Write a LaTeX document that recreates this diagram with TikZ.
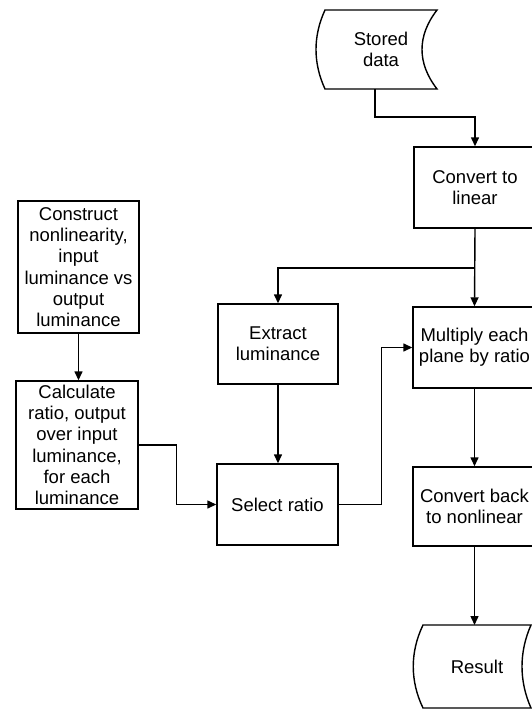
\documentclass[tikz,border=0pt]{standalone}
\usepackage{fontspec}
\setmainfont{Liberation Sans}
\usetikzlibrary{arrows.meta,calc}

\tikzset{
    procbox/.style={draw, rectangle, align=center, inner sep=1pt},
    storebox/.style={rectangle, align=center, inner sep=1pt, outer sep=0pt},
    arr/.style={-{Triangle[length=9pt,width=8pt]}}
}

\begin{document}
\begin{tikzpicture}[x=1pt,y=-1pt,line width=1.4pt,
    every node/.style={font=\fontsize{18.5}{21.3}\selectfont}]
    \useasboundingbox (0,0) rectangle (532,709);

    % right column
    \node[storebox, minimum width=112pt, minimum height=79pt] (stored) at (381,49.5) {Stored\\data};
    \node[procbox, minimum width=122pt, minimum height=81pt] (tolinear) at (475,187.5) {Convert to\\linear};
    \node[procbox, minimum width=123pt, minimum height=81pt] (multiply) at (474.5,347.5) {Multiply each\\plane by ratio};
    \node[procbox, minimum width=123pt, minimum height=79pt] (toback) at (474.5,506.5) {Convert back\\to nonlinear};
    \node[storebox, minimum width=108pt, minimum height=83pt] (result) at (477,666.5) {Result};

    % middle column
    \node[procbox, minimum width=120pt, minimum height=80pt] (extract) at (278,344) {Extract\\luminance};
    \node[procbox, minimum width=121pt, minimum height=81pt] (select) at (277.5,504.5) {Select ratio};

    % left column
    \node[procbox, minimum width=121pt, minimum height=132pt] (construct) at (78.5,267)
        {Construct\\nonlinearity,\\input\\luminance vs\\output\\luminance};
    \node[procbox, minimum width=122pt, minimum height=128pt] (calcratio) at (77,445)
        {Calculate\\ratio, output\\over input\\luminance,\\for each\\luminance};

    % storage outlines
    \draw (stored.north west) -- (stored.north east)
        .. controls ($(stored.north east)+(-20,26)$) and ($(stored.south east)+(-20,-26)$) .. (stored.south east)
        -- (stored.south west)
        .. controls ($(stored.south west)+(-12,-26)$) and ($(stored.north west)+(-12,26)$) .. cycle;
    \draw (result.north west) -- (result.north east)
        .. controls ($(result.north east)+(-12,27)$) and ($(result.south east)+(-12,-27)$) .. (result.south east)
        -- (result.south west)
        .. controls ($(result.south west)+(-13,-27)$) and ($(result.north west)+(-13,27)$) .. cycle;

    % connectors
    \coordinate (branch) at (475,268);
    \draw[arr] ([xshift=-6pt]stored.south) -- ++(0,28) -| (tolinear.north);
    \draw[arr] (tolinear.south) -- (multiply.north);
    \draw[arr] (branch) -| (extract.north);
    \draw[arr] (extract.south) -- (extract.south |- select.north);
    \draw[arr] (select.east) -- ++(43,0) |- (multiply.west);
    \draw[arr] (multiply.south) -- (toback.north);
    \draw[arr] (toback.south) -- (toback.south |- result.north);
    \draw[arr] (construct.south) -- (construct.south |- calcratio.north);
    \draw[arr] (calcratio.east) -- ++(38,0) |- (select.west);
\end{tikzpicture}
\end{document}
